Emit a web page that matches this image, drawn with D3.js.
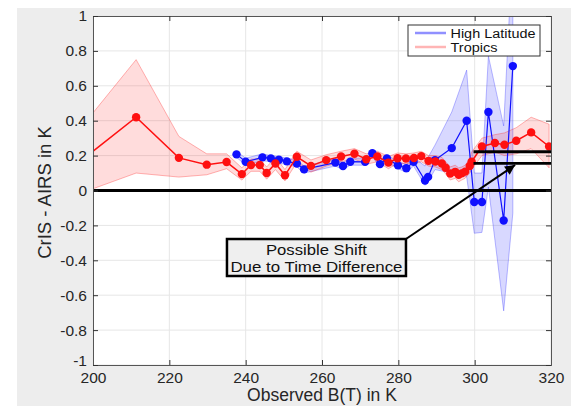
<!DOCTYPE html>
<html><head><meta charset="utf-8">
<script src="https://cdn.jsdelivr.net/npm/d3@7"></script>
<style>
html,body{margin:0;padding:0;background:#fff;}
svg{display:block;font-family:"Liberation Sans",Arial,Helvetica,sans-serif;}
</style></head>
<body>
<svg id="chart" width="571" height="406"></svg>
<script>
// ---- data ----
const xTicks = [200, 220, 240, 260, 280, 300, 320];
const yTicks = [-1, -0.8, -0.6, -0.4, -0.2, 0, 0.2, 0.4, 0.6, 0.8, 1];

const tropicsT     = [196, 211.3, 222.5, 229.8, 235, 239, 241.4, 243.7, 245.5, 247.8, 250.3, 253.4, 257.1, 261.1, 265, 268.5, 271.6, 274.5, 277.4, 279.8, 282, 284.1, 286, 287.9, 289.7, 291.4, 292.4, 293.6, 294.9, 295.8, 296.6, 297.5, 298.7, 299.2, 301.9, 305.3, 307.8, 310.9, 314.8, 319.5];
const tropicsDiff  = [0.156, 0.42, 0.187, 0.148, 0.163, 0.094, 0.146, 0.146, 0.10, 0.155, 0.087, 0.193, 0.141, 0.174, 0.195, 0.211, 0.179, 0.195, 0.16, 0.185, 0.183, 0.186, 0.197, 0.17, 0.166, 0.155, 0.13, 0.097, 0.107, 0.09, 0.098, 0.108, 0.14, 0.165, 0.252, 0.272, 0.262, 0.285, 0.333, 0.252];
const tropicsUpper = [0.337, 0.75, 0.31, 0.21, 0.21, 0.13, 0.18, 0.18, 0.135, 0.19, 0.12, 0.225, 0.175, 0.205, 0.225, 0.24, 0.21, 0.225, 0.195, 0.215, 0.21, 0.215, 0.225, 0.2, 0.2, 0.19, 0.165, 0.135, 0.145, 0.13, 0.135, 0.145, 0.18, 0.22, 0.30, 0.32, 0.33, 0.36, 0.42, 0.38];
const tropicsLower = [-0.022, 0.10, 0.077, 0.09, 0.125, 0.06, 0.11, 0.11, 0.065, 0.12, 0.055, 0.16, 0.105, 0.14, 0.165, 0.18, 0.15, 0.165, 0.125, 0.155, 0.155, 0.155, 0.165, 0.14, 0.135, 0.12, 0.095, 0.06, 0.07, 0.05, 0.06, 0.07, 0.10, 0.12, 0.2, 0.22, 0.2, 0.21, 0.24, 0.13];

const highLatT     = [237.6, 240, 244.4, 246.6, 248.7, 250.8, 253.4, 255.3, 263.5, 265.5, 267.4, 271.3, 273.2, 275.2, 277, 279.9, 282.1, 284, 287, 287.8, 289.6, 294, 297.9, 299.9, 301.9, 303.6, 307.6, 310];
const highLatDiff  = [0.207, 0.165, 0.19, 0.184, 0.176, 0.167, 0.155, 0.121, 0.16, 0.14, 0.165, 0.164, 0.214, 0.151, 0.184, 0.144, 0.128, 0.165, 0.057, 0.078, 0.174, 0.243, 0.40, -0.066, -0.066, 0.45, -0.172, 0.713];
const highLatUpper = [0.225, 0.185, 0.21, 0.2, 0.195, 0.185, 0.175, 0.14, 0.18, 0.16, 0.185, 0.185, 0.235, 0.17, 0.205, 0.165, 0.15, 0.19, 0.14, 0.19, 0.26, 0.45, 0.69, 0.10, 0.10, 0.77, 0.37, 1.4];
const highLatLower = [0.19, 0.145, 0.17, 0.165, 0.155, 0.15, 0.135, 0.1, 0.14, 0.12, 0.145, 0.145, 0.195, 0.13, 0.165, 0.125, 0.105, 0.14, 0.03, 0.05, 0.12, 0.10, 0.08, -0.245, -0.24, 0.02, -0.69, -0.13];

const shiftLevels = [0.222, 0.155];
const shiftStart = 299.7;
const zeroLevel = 0;
const legendNames = ["High Latitude", "Tropics"];
const annotationLines = ["Possible Shift", "Due to Time Difference"];
const annotationBox = {t0: 235.1, t1: 282.0, d0: -0.278, d1: -0.49};
const arrowFrom = [282.0, -0.278], arrowTo = [310.6, 0.146];
const xLabel = "Observed B(T) in K";
const yLabel = "CrIS - AIRS in K";

// ---- layout ----
const svg = d3.select("#chart");
const L = 93, R = 551, T = 16, B = 365;
const x = d3.scaleLinear().domain([200, 320]).range([L, R]);
const y = d3.scaleLinear().domain([-1, 1]).range([B, T]);
const axisCol = "#333";

svg.append("rect").attr("x", 17).attr("y", 8).attr("width", 571 - 17).attr("height", 406 - 8).attr("fill", "#ededed");
svg.append("rect").attr("x", L).attr("y", T).attr("width", R - L).attr("height", B - T).attr("fill", "#fff");

const defs = svg.append("defs");
defs.append("clipPath").attr("id", "clip").append("rect").attr("x", L).attr("y", T).attr("width", R - L).attr("height", B - T);
defs.append("marker").attr("id", "arrowhead").attr("viewBox", "0 0 10 10").attr("refX", 10).attr("refY", 5)
  .attr("markerWidth", 14).attr("markerHeight", 10).attr("markerUnits", "userSpaceOnUse").attr("orient", "auto")
  .append("path").attr("d", "M0,0 L10,5 L0,10 z").attr("fill", "#000");

// grid
const grid = svg.append("g");
grid.selectAll(".gx").data(xTicks).join("line").attr("x1", d => x(d)).attr("x2", d => x(d)).attr("y1", T).attr("y2", B)
  .attr("stroke", "#e6e6e6").attr("stroke-width", 1);
grid.selectAll(".gy").data(yTicks).join("line").attr("y1", d => y(d)).attr("y2", d => y(d)).attr("x1", L).attr("x2", R)
  .attr("stroke", "#e6e6e6").attr("stroke-width", 1);

const plot = svg.append("g").attr("clip-path", "url(#clip)");

function band(ts, up, lo, fill, stroke) {
  const data = ts.map((t, i) => ({t, u: up[i], l: lo[i]}));
  plot.append("path").datum(data)
    .attr("d", d3.area().x(d => x(d.t)).y0(d => y(d.l)).y1(d => y(d.u)))
    .attr("fill", fill).attr("stroke", stroke).attr("stroke-width", 1);
}
band(highLatT, highLatUpper, highLatLower, "rgba(60,60,255,0.2)", "rgba(60,60,255,0.35)");
band(tropicsT, tropicsUpper, tropicsLower, "rgba(255,40,40,0.16)", "rgba(255,40,40,0.35)");

function series(ts, vs, col, w) {
  const data = ts.map((t, i) => ({t, v: vs[i]}));
  plot.append("path").datum(data).attr("d", d3.line().x(d => x(d.t)).y(d => y(d.v)))
    .attr("fill", "none").attr("stroke", col).attr("stroke-width", w);
  plot.append("g").selectAll("circle").data(data).join("circle")
    .attr("cx", d => x(d.t)).attr("cy", d => y(d.v)).attr("r", 4.2).attr("fill", col);
}
series(highLatT, highLatDiff, "#1010ff", 1.2);
series(tropicsT, tropicsDiff, "#ff1010", 1.5);

// reference lines
plot.append("line").attr("x1", L).attr("x2", R).attr("y1", y(zeroLevel)).attr("y2", y(zeroLevel))
  .attr("stroke", "#000").attr("stroke-width", 2.8);
plot.selectAll(".sl").data(shiftLevels).join("line").attr("x1", x(shiftStart)).attr("x2", R)
  .attr("y1", d => y(d)).attr("y2", d => y(d)).attr("stroke", "#000").attr("stroke-width", 2.8);

// axes box & ticks
const ax = svg.append("g").attr("color", axisCol);
const tickFmt = d => String(+d.toFixed(1));
ax.append("g").attr("transform", `translate(0,${B})`)
  .call(d3.axisBottom(x).tickValues(xTicks).tickSize(-5).tickPadding(6.5).tickFormat(tickFmt))
  .call(g => g.selectAll("text").attr("font-size", 15.5).attr("fill", "#262626"));
ax.append("g").attr("transform", `translate(0,${T})`)
  .call(d3.axisTop(x).tickValues(xTicks).tickSize(-5).tickFormat(""));
ax.append("g").attr("transform", `translate(${L},0)`)
  .call(d3.axisLeft(y).tickValues(yTicks).tickSize(-5).tickPadding(6).tickFormat(tickFmt))
  .call(g => g.selectAll("text").attr("font-size", 15.5).attr("fill", "#262626")
    .attr("y", d => d === -1 ? -4.5 : 0));
ax.append("g").attr("transform", `translate(${R},0)`)
  .call(d3.axisRight(y).tickValues(yTicks).tickSize(-5).tickFormat(""));
ax.selectAll(".domain").attr("stroke", "#555");

// axis labels
svg.append("text").attr("x", (L + R) / 2).attr("y", 401.3).attr("text-anchor", "middle")
  .attr("font-size", 17.5).attr("fill", "#262626").text(xLabel);
svg.append("text").attr("transform", `translate(51,${(T + B) / 2 + 2}) rotate(-90)`).attr("text-anchor", "middle")
  .attr("font-size", 18.5).attr("fill", "#262626").text(yLabel);

// annotation
svg.append("line").attr("x1", x(arrowFrom[0])).attr("y1", y(arrowFrom[1])).attr("x2", x(arrowTo[0])).attr("y2", y(arrowTo[1]))
  .attr("stroke", "#000").attr("stroke-width", 2).attr("marker-end", "url(#arrowhead)");
const bx0 = x(annotationBox.t0), bx1 = x(annotationBox.t1), by0 = y(annotationBox.d0), by1 = y(annotationBox.d1);
svg.append("rect").attr("x", bx0).attr("y", by0).attr("width", bx1 - bx0).attr("height", by1 - by0)
  .attr("fill", "#efefef").attr("stroke", "#000").attr("stroke-width", 2.5);
const annLens = [101, 172];
svg.append("g").selectAll("text").data(annotationLines).join("text")
  .attr("x", (bx0 + bx1) / 2).attr("y", (d, i) => by0 + 15.5 + i * 17).attr("text-anchor", "middle")
  .attr("font-size", 15).attr("textLength", (d, i) => annLens[i]).attr("lengthAdjust", "spacingAndGlyphs")
  .attr("fill", "#111").text(d => d);

// legend
const lg = svg.append("g");
lg.append("rect").attr("x", 408).attr("y", 25).attr("width", 132).attr("height", 31)
  .attr("fill", "#fff").attr("stroke", "#333").attr("stroke-width", 1);
const legCols = ["rgba(70,70,255,0.6)", "rgba(255,90,90,0.45)"];
const legLens = [85, 47];
lg.selectAll(".ll").data(legendNames).join("line").attr("x1", 415).attr("x2", 446)
  .attr("y1", (d, i) => 33 + i * 14).attr("y2", (d, i) => 33 + i * 14)
  .attr("stroke", (d, i) => legCols[i]).attr("stroke-width", 2.5);
lg.selectAll(".lt").data(legendNames).join("text").attr("x", 450.5).attr("y", (d, i) => 37.5 + i * 14)
  .attr("font-size", 12.5).attr("textLength", (d, i) => legLens[i]).attr("lengthAdjust", "spacingAndGlyphs")
  .attr("fill", "#111").text(d => d);
</script>
</body></html>
